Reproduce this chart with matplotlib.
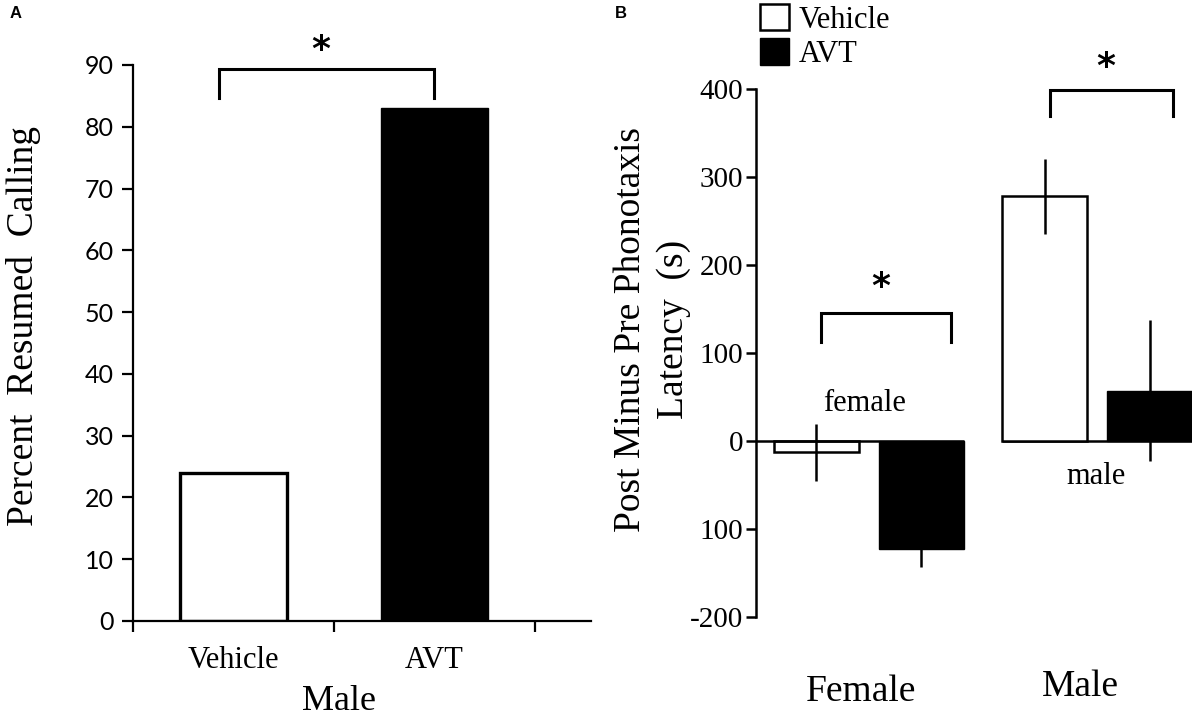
import numpy as np
import matplotlib
matplotlib.use("Agg")
import matplotlib.pyplot as plt

# panel A: percent of males that resumed calling
a_groups = ["Vehicle", "AVT"]
a_values = [24, 83]
a_yticks = [0, 10, 20, 30, 40, 50, 60, 70, 80, 90]

# panel B: post minus pre phonotaxis latency (s), mean and error
b_groups = ["Female", "Male"]
b_vehicle = [-13, 278]
b_vehicle_err = [32, 43]
b_avt = [-123, 57]
b_avt_err = [20, 80]
b_yticks = [-200, -100, 0, 100, 200, 300, 400]
b_yticklabels = ["-200", "100", "0", "100", "200", "300", "400"]

serif = "Liberation Serif"
W, H = 1192, 717
fig = plt.figure(figsize=(W / 100, H / 100), dpi=100)

# ---------------- panel A ----------------
axA = fig.add_axes([133 / W, 1 - 621 / H, (591 - 133) / W, (621 - 65) / H])
xa = np.arange(len(a_groups))
axA.bar(xa[0], a_values[0], width=0.53, color="white", edgecolor="black", linewidth=2.4)
axA.bar(xa[1], a_values[1], width=0.53, color="black", edgecolor="black", linewidth=1)
axA.set_xlim(-0.5, 1.78)
axA.set_ylim(0, 90)
axA.spines["top"].set_visible(False)
axA.spines["right"].set_visible(False)
for s in ["left", "bottom"]:
    axA.spines[s].set_linewidth(1.6)
axA.set_yticks(a_yticks)
axA.set_yticklabels([str(v) for v in a_yticks], family="Lato", fontsize=18)
axA.tick_params(axis="y", length=8, width=1.6, pad=6)
axA.set_xticks([-0.5, 0.5, 1.5])
axA.set_xticklabels([])
axA.tick_params(axis="x", which="major", length=8, width=1.6)
axA.set_xticks(xa, minor=True)
axA.set_xticklabels(a_groups, minor=True, family=serif, fontsize=22)
axA.tick_params(axis="x", which="minor", length=0, pad=18)
axA.set_ylabel("Percent  Resumed  Calling", family=serif, fontsize=27)
axA.yaxis.set_label_coords(-0.2, 0.53)
axA.text(0.45, -0.145, "Male", transform=axA.transAxes, family=serif,
         fontsize=26, ha="center", va="center")

# significance bracket
bl, br = xa[0] - 0.07, xa[1]
axA.plot([bl, bl, br, br], [84.6, 89.3, 89.3, 84.6], color="black", lw=2.2,
         clip_on=False, solid_joinstyle="miter")
axA.text((bl + br) / 2 - 0.03, 92.5, "*", ha="center", va="center",
         fontsize=26, family="DejaVu Sans", weight="bold", clip_on=False)

fig.text(10 / W, 1 - 13 / H, "A", family="Liberation Sans", weight="bold",
         fontsize=12, va="center", ha="left")

# ---------------- panel B ----------------
axB = fig.add_axes([756 / W, 1 - 617 / H, (W - 756) / W, (617 - 89) / H])
gpos = np.arange(len(b_groups)) * 2.285
off, bw = 0.525, 0.85
errkw = dict(ecolor="black", elinewidth=1.8, capsize=0)
vb = axB.bar(gpos - off, b_vehicle, width=bw, color="white", edgecolor="black",
             linewidth=1.8, yerr=b_vehicle_err, error_kw=errkw, label="Vehicle", zorder=2)
ab = axB.bar(gpos + off, b_avt, width=bw, color="black", edgecolor="black",
             linewidth=1, yerr=b_avt_err, error_kw=errkw, label="AVT", zorder=2)
axB.set_xlim(-1.125, 3.235)
axB.set_ylim(-200, 400)
for s in ["top", "right", "bottom"]:
    axB.spines[s].set_visible(False)
axB.spines["left"].set_linewidth(1.8)
axB.set_xticks([])
axB.set_yticks(b_yticks)
axB.set_yticklabels(b_yticklabels, family=serif, fontsize=21)
axB.tick_params(axis="y", length=7, width=1.8, pad=2)

# zero lines under each group
axB.hlines(0, -1.125, gpos[0] + off + bw / 2, color="black", lw=1.8, zorder=3)
axB.hlines(0, gpos[1] - off - bw / 2, gpos[1] + off + bw / 2, color="black", lw=1.8, zorder=1)

axB.set_ylabel("Post Minus Pre Phonotaxis\nLatency  (s)", family=serif,
               fontsize=27, linespacing=1.3)
axB.yaxis.set_label_coords(-0.15, 0.545)

axB.text(gpos[0] - 0.035, 43, "female", family=serif, fontsize=22, ha="center", va="center")
axB.text(gpos[1] - 0.01, -40, "male", family=serif, fontsize=22, ha="center", va="center")
axB.text(gpos[0] - 0.075, -285, "Female", family=serif, fontsize=27,
         ha="center", va="center", clip_on=False)
axB.text(gpos[1] - 0.17, -279, "Male", family=serif, fontsize=27,
         ha="center", va="center", clip_on=False)

# brackets
def bracket(ax, x0, x1, ylo, yhi, ystar):
    ax.plot([x0, x0, x1, x1], [ylo, yhi, yhi, ylo], color="black", lw=2.2,
            clip_on=False, solid_joinstyle="miter")
    ax.text((x0 + x1) / 2 - 0.05, ystar, "*", ha="center", va="center",
            fontsize=26, family="DejaVu Sans", weight="bold", clip_on=False)

bracket(axB, gpos[0] - off + 0.05, gpos[0] + off + 0.3, 112, 145, 175)
bracket(axB, gpos[1] - off + 0.05, gpos[1] + off + 0.23, 369, 399, 425)

fig.legend(handles=[vb, ab], labels=["Vehicle", "AVT"], loc="upper left",
           bbox_to_anchor=(742 / W, 1.02), frameon=False, prop={"family": serif, "size": 22},
           handlelength=0.95, handleheight=0.95, handletextpad=0.3, labelspacing=0.12,
           borderpad=0.1)

fig.text(615 / W, 1 - 13 / H, "B", family="Liberation Sans", weight="bold",
         fontsize=12, va="center", ha="left")

fig.savefig("out.png", dpi=100)
